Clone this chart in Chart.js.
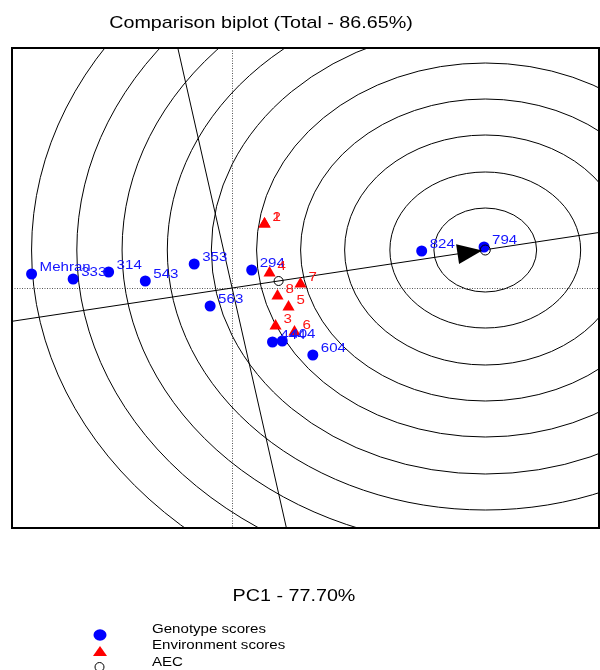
<!DOCTYPE html>
<html>
<head>
<meta charset="utf-8">
<title>Comparison biplot</title>
<script src="https://cdn.jsdelivr.net/npm/chart.js@4.4.1/dist/chart.umd.min.js"></script>
<style>
body { margin: 0; background: #fff; }
</style>
</head>
<body>
<canvas id="biplot" width="600" height="670"></canvas>
<script>
// genotype scores (PC1, PC2)
const genotypes = ['Mehran', '333', '314', '543', '353', '563', '294', '444', '404', '604', '824', '794']
const genoPC1 = [-1.64, -1.30, -1.01, -0.71, -0.31, -0.18, 0.16, 0.33, 0.41, 0.66, 1.55, 2.06]
const genoPC2 = [0.14, 0.09, 0.16, 0.07, 0.24, -0.18, 0.18, -0.54, -0.53, -0.67, 0.37, 0.41]

// environment scores
const environments = ['1', '2', '3', '4', '5', '6', '7', '8']
const envPC1 = [0.265, 0.265, 0.355, 0.306, 0.461, 0.510, 0.559, 0.371]
const envPC2 = [0.64, 0.64, -0.38, 0.15, -0.19, -0.44, 0.04, -0.08]

// average environment, ideal genotype, AEC slope and circle radii
const aecPoint = [0.38, 0.07]
const idealPoint = [2.07, 0.38]
const aecSlope = 0.185
const radii = [0.42, 0.78, 1.15, 1.51, 1.87, 2.24, 2.60, 2.97, 3.34, 3.71]

const xRange = [-1.8, 3.0]
const yRange = [-2.4, 2.4]

const FONT = "'Liberation Sans', Arial, sans-serif"
const SX = 1.16   // the picture is a bit wide, so is the text

function wideText(ctx, text, x, y, size, color, align) {
    ctx.save()
    ctx.font = size + 'px ' + FONT
    ctx.fillStyle = color
    ctx.textAlign = 'left'
    ctx.textBaseline = 'alphabetic'
    let w = ctx.measureText(text).width * SX
    let x0 = align == 'center' ? x - w / 2 : x
    ctx.translate(x0, y)
    ctx.scale(SX, 1)
    ctx.fillText(text, 0, 0)
    ctx.restore()
}

function toPoints(xs, ys) {
    return xs.map((v, i) => ({ x: v, y: ys[i] }))
}

const biplotLines = {
    id: 'biplotLines',
    beforeDatasetsDraw(chart) {
        const { ctx, chartArea: a, scales: { x, y } } = chart
        ctx.save()
        ctx.beginPath()
        ctx.rect(a.left, a.top, a.right - a.left, a.bottom - a.top)
        ctx.clip()

        // dotted axes through the origin
        ctx.strokeStyle = '#555'
        ctx.lineWidth = 1
        ctx.setLineDash([1, 1.5])
        ctx.beginPath()
        let y0 = Math.round(y.getPixelForValue(0)) + 0.5
        let x0 = Math.round(x.getPixelForValue(0)) + 0.5
        ctx.moveTo(a.left, y0)
        ctx.lineTo(a.right, y0)
        ctx.moveTo(x0, a.top)
        ctx.lineTo(x0, a.bottom)
        ctx.stroke()
        ctx.setLineDash([])

        // concentric circles around the ideal genotype
        ctx.strokeStyle = '#000'
        let cx = x.getPixelForValue(idealPoint[0])
        let cy = y.getPixelForValue(idealPoint[1])
        radii.forEach(r => {
            let rx = x.getPixelForValue(idealPoint[0] + r) - cx
            let ry = cy - y.getPixelForValue(idealPoint[1] + r)
            ctx.beginPath()
            ctx.ellipse(cx, cy, rx, ry, 0, 0, 2 * Math.PI)
            ctx.stroke()
        })

        // AEC abscissa and the line perpendicular to it
        ctx.beginPath()
        ctx.moveTo(x.getPixelForValue(xRange[0]), y.getPixelForValue(xRange[0] * aecSlope))
        ctx.lineTo(x.getPixelForValue(xRange[1]), y.getPixelForValue(xRange[1] * aecSlope))
        ctx.moveTo(x.getPixelForValue(-aecSlope * yRange[1]), y.getPixelForValue(yRange[1]))
        ctx.lineTo(x.getPixelForValue(-aecSlope * yRange[0]), y.getPixelForValue(yRange[0]))
        ctx.stroke()
        ctx.restore()
    },
    afterDatasetDraw(chart, args) {
        if (args.index != 1) return
        // arrow head pointing to the ideal genotype
        const { ctx, scales: { x, y } } = chart
        let ox = x.getPixelForValue(0), oy = y.getPixelForValue(0)
        let ix = x.getPixelForValue(idealPoint[0]), iy = y.getPixelForValue(idealPoint[1])
        let len = Math.hypot(ix - ox, iy - oy)
        let dx = (ix - ox) / len, dy = (iy - oy) / len
        let tx = ix - 3 * dx, ty = iy - 3 * dy
        let bx = tx - 25 * dx, by = ty - 25 * dy
        ctx.save()
        ctx.fillStyle = '#000'
        ctx.beginPath()
        ctx.moveTo(tx, ty)
        ctx.lineTo(bx - 10 * dy, by + 10 * dx)
        ctx.lineTo(bx + 10 * dy, by - 10 * dx)
        ctx.closePath()
        ctx.fill()
        ctx.restore()
    },
    afterDatasetsDraw(chart) {
        const { ctx } = chart
        chart.getDatasetMeta(2).data.forEach((p, i) => {
            wideText(ctx, genotypes[i], p.x + 8, p.y - 3, 13, 'rgb(20,20,255)', 'left')
        })
        chart.getDatasetMeta(1).data.forEach((p, i) => {
            wideText(ctx, environments[i], p.x + 8, p.y - 3, 13, 'rgb(255,20,20)', 'left')
        })
    },
    afterDraw(chart) {
        const { ctx, chartArea: a } = chart
        ctx.save()
        ctx.strokeStyle = '#000'
        ctx.lineWidth = 2
        ctx.strokeRect(a.left, a.top, a.right - a.left, a.bottom - a.top)
        ctx.restore()

        wideText(ctx, 'Comparison biplot (Total - 86.65%)', 261, 28, 17, '#000', 'center')
        wideText(ctx, 'PC1 - 77.70%', 294, 601, 17, '#000', 'center')

        // legend
        ctx.save()
        ctx.fillStyle = 'rgb(0,0,255)'
        ctx.beginPath()
        ctx.ellipse(100, 635, 6.5, 5.8, 0, 0, 2 * Math.PI)
        ctx.fill()
        ctx.fillStyle = 'rgb(255,0,0)'
        ctx.beginPath()
        ctx.moveTo(100, 646)
        ctx.lineTo(93, 656)
        ctx.lineTo(107, 656)
        ctx.closePath()
        ctx.fill()
        ctx.strokeStyle = '#000'
        ctx.lineWidth = 1
        ctx.beginPath()
        ctx.arc(99.5, 667, 4.5, 0, 2 * Math.PI)
        ctx.stroke()
        ctx.restore()
        wideText(ctx, 'Genotype scores', 152, 633, 13, '#000', 'left')
        wideText(ctx, 'Environment scores', 152, 649, 13, '#000', 'left')
        wideText(ctx, 'AEC', 152, 666, 13, '#000', 'left')
    }
}

const ctx = document.getElementById('biplot')
const config = {
    type: 'scatter',
    data: {
        datasets: [
            {
                label: 'AEC',
                data: [{ x: aecPoint[0], y: aecPoint[1] }, { x: idealPoint[0], y: idealPoint[1] }],
                pointStyle: 'circle',
                pointRadius: [4.5, 5],
                borderColor: '#000',
                borderWidth: 1,
                backgroundColor: 'rgba(0,0,0,0)'
            },
            {
                label: 'Environment scores',
                data: toPoints(envPC1, envPC2),
                pointStyle: 'triangle',
                pointRadius: 7,
                borderWidth: 0,
                borderColor: 'rgb(255,0,0)',
                backgroundColor: 'rgb(255,0,0)'
            },
            {
                label: 'Genotype scores',
                data: toPoints(genoPC1, genoPC2),
                pointStyle: 'circle',
                pointRadius: 5.5,
                borderWidth: 0,
                borderColor: 'rgb(0,0,255)',
                backgroundColor: 'rgb(0,0,255)'
            }
        ]
    },
    options: {
        responsive: false,
        animation: false,
        layout: { autoPadding: false, padding: { left: 12, top: 48, right: 1, bottom: 142 } },
        scales: {
            x: { type: 'linear', min: xRange[0], max: xRange[1], display: false },
            y: { type: 'linear', min: yRange[0], max: yRange[1], display: false }
        },
        plugins: {
            legend: { display: false },
            tooltip: { enabled: false }
        }
    },
    plugins: [biplotLines]
}
let biplot = new Chart(ctx, config)
</script>
</body>
</html>
